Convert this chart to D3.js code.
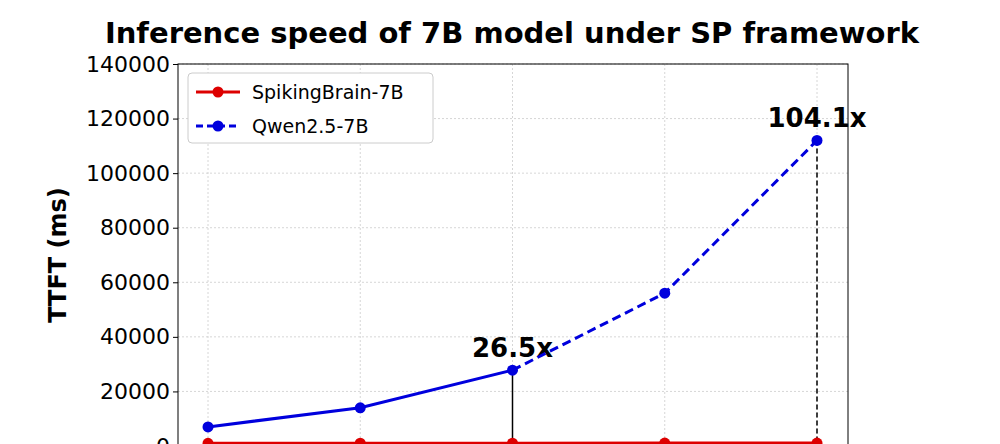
<!DOCTYPE html><html><head><meta charset="utf-8">
<script src="https://cdn.jsdelivr.net/npm/d3@7"></script>
<style>body{margin:0;background:#fff}</style></head><body>
<svg id="c" width="1000" height="444"></svg>
<script>
const categories=["1","2","3","4","5"];
const spiking=[1000,1030,1050,1060,1075];
const qwen=[7000,14000,27800,56000,112000];
const yTicks=[0,20000,40000,60000,80000,100000,120000,140000];
const annotations=[{i:2,label:"26.5x"},{i:4,label:"104.1x"}];
const svg=d3.select("#c");
const L=178,R=848,T=64,B=446;
const x=d3.scalePoint().domain(categories).range([208,817]);
const y=d3.scaleLinear().domain([0,140000]).range([B,T]);
const f="DejaVu Sans, sans-serif";
svg.append("text").attr("x",512).attr("y",43).attr("text-anchor","middle").attr("font-family",f).attr("font-weight","bold").attr("font-size",29).text("Inference speed of 7B model under SP framework");
const g=svg.append("g");
yTicks.forEach(t=>{g.append("line").attr("x1",L).attr("x2",R).attr("y1",y(t)).attr("y2",y(t)).attr("stroke","#ccc").attr("stroke-dasharray","2,2").attr("stroke-width",0.8);});
categories.forEach(c=>{g.append("line").attr("x1",x(c)).attr("x2",x(c)).attr("y1",T).attr("y2",B).attr("stroke","#ccc").attr("stroke-dasharray","2,2").attr("stroke-width",0.8);});
svg.append("rect").attr("x",L).attr("y",T).attr("width",R-L).attr("height",B-T+20).attr("fill","none").attr("stroke","#000").attr("stroke-width",1);
const ax=svg.append("g").attr("transform",`translate(${L},0)`).call(d3.axisLeft(y).tickValues(yTicks).tickFormat(d3.format("d")).tickSize(5));
ax.select(".domain").remove();
ax.selectAll("text").attr("font-family",f).attr("font-size",22).attr("fill","#000");
svg.append("text").attr("transform","translate(66,255) rotate(-90)").attr("text-anchor","middle").attr("font-family",f).attr("font-weight","bold").attr("font-size",24).text("TTFT (ms)");
annotations.forEach(a=>{const c=categories[a.i];
 svg.append("line").attr("x1",x(c)).attr("x2",x(c)).attr("y1",y(qwen[a.i])).attr("y2",B).attr("stroke","#000").attr("stroke-width",1.5).attr("stroke-dasharray",a.i===4?"5,3":null);
 svg.append("text").attr("x",x(c)).attr("y",y(qwen[a.i])-13).attr("text-anchor","middle").attr("font-family",f).attr("font-weight","bold").attr("font-size",26).text(a.label);});
const line=d3.line().x((d,i)=>x(categories[i])).y(d=>y(d));
const qd=qwen.map((v,i)=>({v,i}));
const ln=d3.line().x(d=>x(categories[d.i])).y(d=>y(d.v));
svg.append("path").attr("d",ln(qd.slice(0,3))).attr("fill","none").attr("stroke","#0000dd").attr("stroke-width",3);
svg.append("path").attr("d",ln(qd.slice(2))).attr("fill","none").attr("stroke","#0000dd").attr("stroke-width",3).attr("stroke-dasharray","9,5");
svg.append("path").attr("d",line(spiking)).attr("fill","none").attr("stroke","#dd0000").attr("stroke-width",3);
qwen.forEach((v,i)=>svg.append("circle").attr("cx",x(categories[i])).attr("cy",y(v)).attr("r",5.5).attr("fill","#0000dd"));
spiking.forEach((v,i)=>svg.append("circle").attr("cx",x(categories[i])).attr("cy",y(v)).attr("r",5.5).attr("fill","#dd0000"));
const lg=svg.append("g");
lg.append("rect").attr("x",188).attr("y",73).attr("width",245).attr("height",70).attr("rx",4).attr("fill","#fff").attr("stroke","#ccc");
[["SpikingBrain-7B","#dd0000",null,92],["Qwen2.5-7B","#0000dd","7,4",126]].forEach(([n,c,da,yy])=>{
 lg.append("line").attr("x1",196).attr("x2",240).attr("y1",yy).attr("y2",yy).attr("stroke",c).attr("stroke-width",3).attr("stroke-dasharray",da);
 lg.append("circle").attr("cx",218).attr("cy",yy).attr("r",5.5).attr("fill",c);
 lg.append("text").attr("x",252).attr("y",yy+7).attr("font-family",f).attr("font-size",19).text(n);});
</script></body></html>
